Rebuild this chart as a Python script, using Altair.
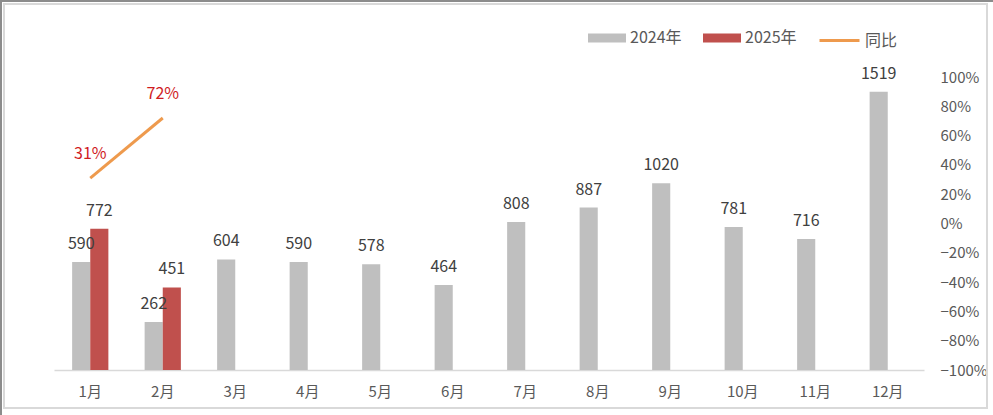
import altair as alt
import pandas as pd

months = ["1月", "2月", "3月", "4月", "5月", "6月", "7月", "8月", "9月", "10月", "11月", "12月"]
v2024 = [590, 262, 604, 590, 578, 464, 808, 887, 1020, 781, 716, 1519]
v2025 = [772, 451]
yoy_months = ["1月", "2月"]
yoy = [0.31, 0.72]
years = ["2024年", "2025年"]

rows = []
for m, v in zip(months, v2024):
    rows.append({"month": m, "year": "2024年", "value": v})
for m, v in zip(months, v2025):
    rows.append({"month": m, "year": "2025年", "value": v})
bars_df = pd.DataFrame(rows)
line_df = pd.DataFrame({"month": yoy_months, "yoy": yoy, "series": ["同比"] * len(yoy)})

FONT = "Noto Sans CJK SC"

x_enc = alt.X(
    "month:N",
    sort=months,
    scale=alt.Scale(domain=months, paddingInner=0.5, paddingOuter=0.25),
    axis=alt.Axis(
        title=None, labelAngle=0, ticks=False, domainColor="#D9D9D9", domainWidth=1.5,
        labelFontSize=15, labelColor="#595959", labelPadding=14, labelFont=FONT,
    ),
)
xoff = alt.XOffset("year:N", scale=alt.Scale(domain=years))
y_bar = alt.Y("value:Q", scale=alt.Scale(domain=[0, 1600]), axis=None)

bars = alt.Chart(bars_df).mark_bar().encode(
    x=x_enc,
    xOffset=xoff,
    y=y_bar,
    fill=alt.Fill(
        "year:N",
        scale=alt.Scale(domain=years, range=["#BFBFBF", "#C0504D"]),
        legend=alt.Legend(
            title=None, orient="none", legendX=534, legendY=-58, direction="horizontal",
            symbolType="M-1,-0.24H1V0.24H-1Z", symbolSize=1444, symbolStrokeWidth=0,
            labelFontSize=16, labelColor="#595959", labelFont=FONT, labelOffset=4,
            columnPadding=21,
        ),
    ),
)

bar_text = alt.Chart(bars_df).mark_text(
    baseline="alphabetic", dy=-13, fontSize=16, color="#404040", font=FONT
).encode(
    x=x_enc, xOffset=xoff, y=y_bar, text=alt.Text("value:Q")
)

y_line = alt.Y(
    "yoy:Q",
    scale=alt.Scale(domain=[-1, 1]),
    axis=alt.Axis(
        orient="right", title=None, values=[-1, -0.8, -0.6, -0.4, -0.2, 0, 0.2, 0.4, 0.6, 0.8, 1],
        format=".0%", domain=False, ticks=False, grid=False, labelAlign="left",
        labelPadding=16, labelFontSize=15, labelColor="#595959", labelFont=FONT,
    ),
)
y_line_noaxis = alt.Y("yoy:Q", scale=alt.Scale(domain=[-1, 1]), axis=None)

line = alt.Chart(line_df).mark_line(strokeWidth=3).encode(
    x=x_enc,
    y=y_line,
    stroke=alt.Stroke(
        "series:N",
        scale=alt.Scale(domain=["同比"], range=["#EE9A4D"]),
        legend=alt.Legend(
            title=None, orient="none", legendX=764, legendY=-58,
            symbolType="stroke", symbolSize=1600, symbolStrokeWidth=3,
            labelFontSize=16, labelColor="#595959", labelFont=FONT, labelOffset=4,
        ),
    ),
)

line_text = alt.Chart(line_df).mark_text(
    baseline="alphabetic", dy=-19, fontSize=16, color="#D01C1F", font=FONT
).encode(
    x=x_enc, y=y_line_noaxis, text=alt.Text("yoy:Q", format=".0%")
)

frame_df = pd.DataFrame({"k": [0]})
frame = alt.Chart(frame_df).mark_rect(fillOpacity=0, stroke="#D9D9D9", strokeWidth=2).encode(
    x=alt.value(-50), x2=alt.value(933), y=alt.value(-73), y2=alt.value(331)
)
edge_left = alt.Chart(frame_df).mark_rule(stroke="#8C8C8C", strokeWidth=2).encode(
    x=alt.value(-53), y=alt.value(-77), y2=alt.value(338)
)
edge_top = alt.Chart(frame_df).mark_rule(stroke="#8C8C8C", strokeWidth=2).encode(
    x=alt.value(-54), x2=alt.value(939), y=alt.value(-76)
)

chart = alt.layer(
    frame, edge_left, edge_top, bars, bar_text, line, line_text
).resolve_scale(
    y="independent"
).properties(
    width=870, height=293, autosize="none",
    padding={"left": 54, "top": 77, "right": 69, "bottom": 45},
    background="white",
).configure(font=FONT).configure_view(stroke="transparent", strokeWidth=0)

chart.save("out.html", embed_options={"renderer": "svg", "actions": False})
